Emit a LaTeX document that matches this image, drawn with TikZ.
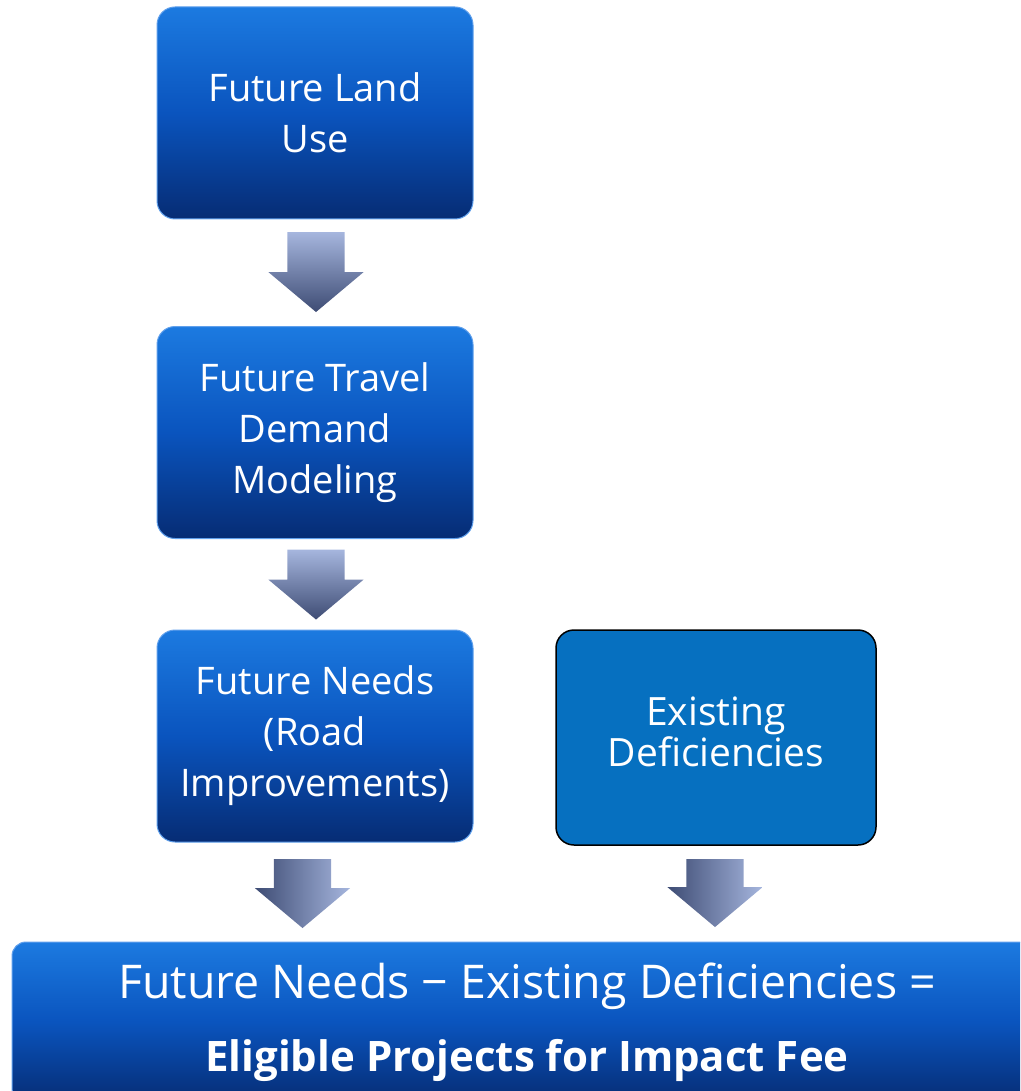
\documentclass[tikz,border=0pt]{standalone}
\usepackage{fontspec}
\setmainfont{Open Sans}
\usetikzlibrary{shapes.arrows}
\definecolor{boxtop}{RGB}{28,122,224}
\definecolor{boxmid}{RGB}{10,84,190}
\definecolor{boxbot}{RGB}{6,44,116}
\definecolor{boxedge}{RGB}{96,160,236}
\definecolor{flatblue}{RGB}{6,112,192}
\definecolor{arrlight}{RGB}{166,182,222}
\definecolor{arrdark}{RGB}{62,76,116}
\tikzset{
  stepbox/.style={rounded corners=18pt, draw=boxedge, line width=1pt,
    top color=boxtop, bottom color=boxbot, middle color=boxmid,
    text=white, align=center, minimum width=316pt, minimum height=212pt,
    inner sep=0pt, font=\fontsize{38}{51}\selectfont},
  flatbox/.style={rounded corners=18pt, draw=black, line width=1.5pt,
    fill=flatblue, text=white, align=center, minimum width=320pt,
    minimum height=215pt, inner sep=0pt, font=\fontsize{39}{39}\selectfont},
  blockarrow/.style={single arrow, rotate=-90, inner xsep=0pt,
    inner ysep=28.5pt, single arrow head extend=19pt,
    single arrow tip angle=100, single arrow head indent=0pt},
  vshade/.style={top color=arrlight, bottom color=arrdark},
  hshade/.style={left color=arrdark, right color=arrlight}
}
\begin{document}
\begin{tikzpicture}[x=1pt, y=-1pt]
    \useasboundingbox (0,0) rectangle (1020,1091);
    \clip (0,0) rectangle (1020,1091);
    \node[stepbox] (land)   at (315,113)   {Future Land\\Use};
    \node[stepbox] (travel) at (315,432.5) {Future Travel\\Demand\\Modeling};
    \node[stepbox] (needs)  at (315,736)   {Future Needs\\(Road\\Improvements)};
    \node[flatbox] (exist)  at (716,737.5)
      {\raisebox{4.5pt}{\begin{tabular}{@{}c@{}}Existing\\Deficiencies\end{tabular}}};
    %
    \node[stepbox, rounded corners=14pt, minimum width=1030pt,
      minimum height=160pt, font=\fontsize{46.5}{73}\selectfont]
      (fee) at (527,1022)
      {Future Needs − Existing Deficiencies =\\
       {\bfseries\fontsize{42}{73}\selectfont Eligible Projects for Impact Fee}};
    %
    \node[blockarrow, vshade, minimum height=80pt] (a1) at (316,260) {};
    \node[blockarrow, vshade, minimum height=70pt] (a2) at (316,572.5) {};
    \node[blockarrow, hshade, minimum height=69pt] (a3) at (302.5,881.5) {};
    \node[blockarrow, hshade, minimum height=68pt] (a4) at (715,881) {};
\end{tikzpicture}
\end{document}
